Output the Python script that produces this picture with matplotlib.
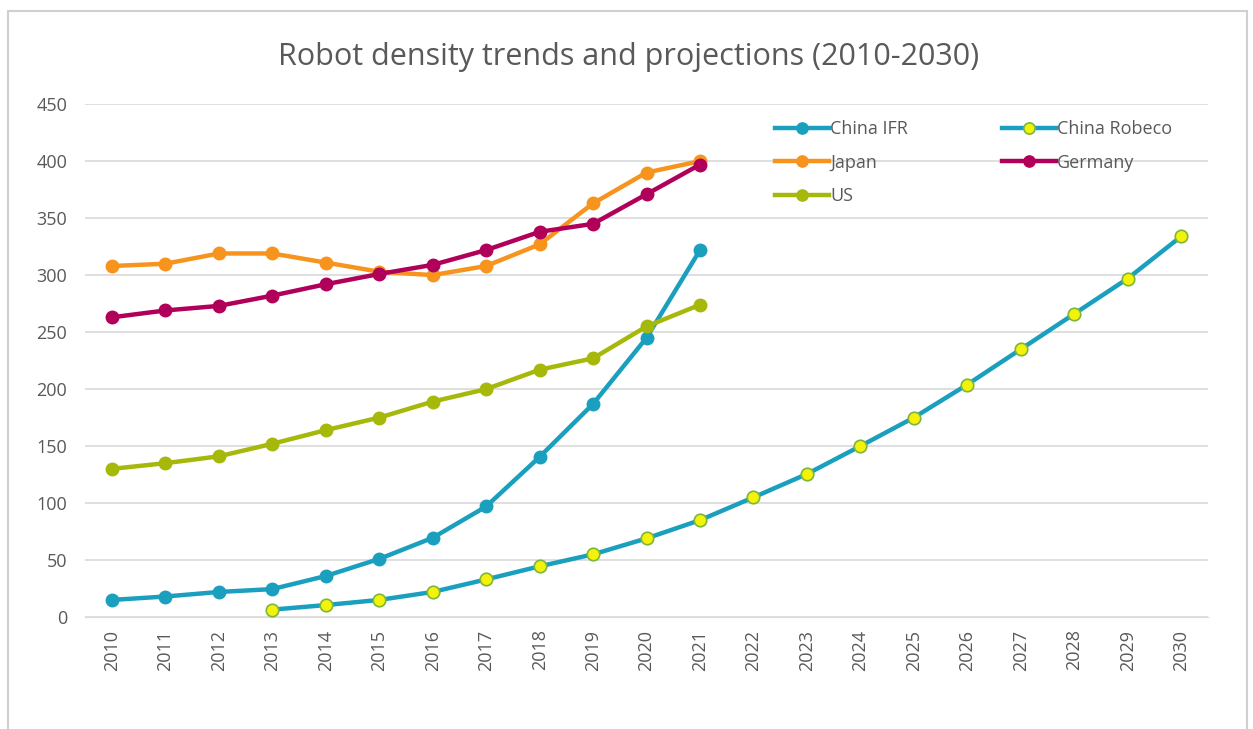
import numpy as np
import matplotlib.pyplot as plt
from matplotlib.patches import Rectangle

plt.rcParams['font.family'] = ['Open Sans', 'DejaVu Sans']

years = list(range(2010, 2031))

china_ifr_years = list(range(2010, 2022))
china_ifr = [15, 18, 22, 24.5, 36, 51, 69.5, 97, 140.5, 187, 245, 322]

robeco_years = list(range(2013, 2031))
china_robeco = [6.5, 10.5, 15, 22, 33, 44.5, 55, 69, 85, 105, 125.5, 150, 175, 204, 235, 266, 297, 334]

japan_years = list(range(2010, 2022))
japan = [308, 310, 319, 319, 311, 303, 300, 308, 327, 363, 390, 400]

germany_years = list(range(2010, 2022))
germany = [263, 269, 273, 282, 292, 301, 309, 322, 338, 345, 371, 397]

us_years = list(range(2010, 2022))
us = [130, 135, 141, 152, 164, 175, 189, 200, 217, 227, 255, 274]

c_teal = '#1AA0BE'
c_orange = '#F7941D'
c_magenta = '#B0005A'
c_green = '#A6B80A'
c_text = '#595959'
c_grid = '#D9D9D9'

fig = plt.figure(figsize=(12.53, 7.29), dpi=100)
ax = fig.add_axes([0.068, 0.1536, 0.896, 0.7035])

# outer frame like the Excel chart area
fig.patches.append(Rectangle((0.0065, -0.02), 0.989, 1.005, transform=fig.transFigure,
                             fill=False, edgecolor='#D0D0D0', linewidth=1.5))

lw = 3.2
ms = 9
ax.plot(china_ifr_years, china_ifr, color=c_teal, lw=lw, marker='o', ms=ms, label='China IFR', zorder=3)
ax.plot(robeco_years, china_robeco, color=c_teal, lw=lw, marker='o', ms=ms,
        markerfacecolor='#F2F20A', markeredgecolor='#7FB63A', markeredgewidth=1.2, label='China Robeco', zorder=3)
ax.plot(japan_years, japan, color=c_orange, lw=lw, marker='o', ms=ms, label='Japan', zorder=3)
ax.plot(germany_years, germany, color=c_magenta, lw=lw, marker='o', ms=ms, label='Germany', zorder=4)
ax.plot(us_years, us, color=c_green, lw=lw, marker='o', ms=ms, label='US', zorder=4)

ax.set_xlim(2009.5, 2030.5)
ax.set_ylim(0, 450)
ax.set_yticks(np.arange(0, 451, 50))
ax.set_xticks(years)
ax.set_xticklabels([str(y) for y in years], rotation=90)
ax.grid(axis='y', color=c_grid, linewidth=1.2)
ax.set_axisbelow(True)
for s in ['top', 'right', 'left']:
    ax.spines[s].set_visible(False)
ax.spines['bottom'].set_color(c_grid)
ax.tick_params(axis='both', length=0, colors=c_text, labelsize=13)
ax.tick_params(axis='y', pad=13)
ax.tick_params(axis='x', pad=9)

fig.text(0.502, 0.922, 'Robot density trends and projections (2010-2030)',
         ha='center', va='center', fontsize=22, color=c_text)

handles, labels = ax.get_legend_handles_labels()
order = [0, 2, 4, 1, 3]
leg = ax.legend([handles[i] for i in order], [labels[i] for i in order], ncol=2,
                loc='upper left', bbox_to_anchor=(0.6, 1.0), frameon=False,
                fontsize=13, labelcolor=c_text, handlelength=3.0, handletextpad=0.05,
                columnspacing=5.2, labelspacing=0.85, markerscale=0.9)

fig.savefig('out.png', dpi=100)
